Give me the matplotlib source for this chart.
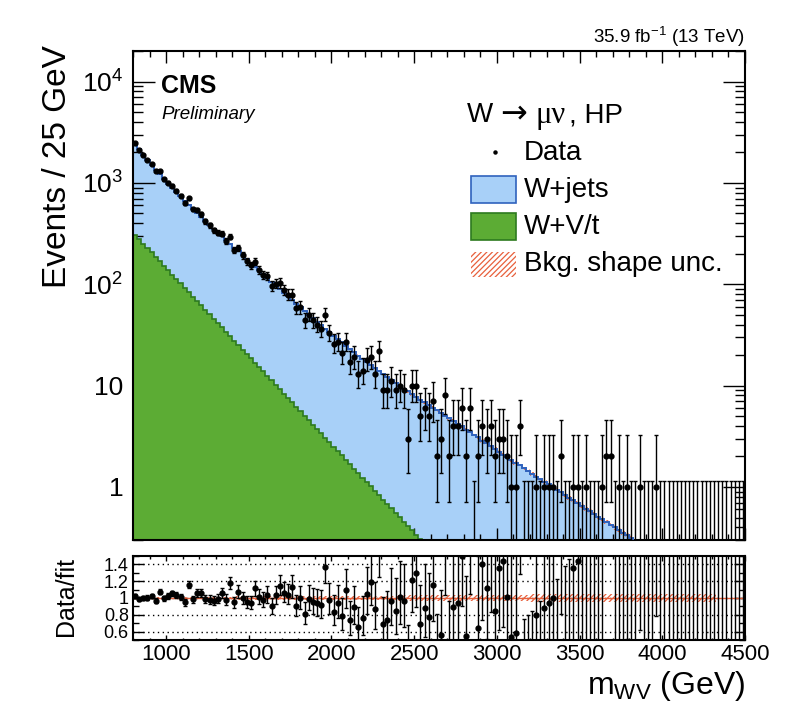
import numpy as np
import matplotlib
matplotlib.use("Agg")
import matplotlib.pyplot as plt
from matplotlib.patches import Rectangle
from matplotlib.lines import Line2D
from matplotlib.ticker import MultipleLocator, FixedLocator, FixedFormatter, LogLocator, NullFormatter

# ---------------- data ----------------
mass_min, mass_max, bin_width = 800, 4500, 25

data_counts = [
    2474, 2107, 1891, 1693, 1536, 1307, 1303, 1086, 1008, 941,
    839, 745, 633, 706, 547, 538, 488, 417, 380, 342,
    322, 316, 268, 295, 218, 227, 193, 168, 154, 166,
    139, 123, 120, 96, 101, 103, 88, 79, 79, 58,
    59, 44, 50, 44, 40, 36, 50, 33, 26, 27,
    21, 27, 17, 19, 13, 14, 18, 19, 13, 22,
    9, 9, 11, 9, 10, 9, 3, 10, 10, 5,
    6, 5, 7, 2, 3, 8, 2, 4, 4, 6,
    2, 6, 0, 2, 4, 3, 4, 2, 3, 3,
    2, 1, 1, 4, 0, 0, 0, 1, 0, 1,
    1, 1, 0, 2, 0, 0, 1, 1, 0, 1,
    0, 0, 0, 1, 2, 2, 0, 1, 0, 1,
    0, 0, 1, 0, 0, 0, 1, 0, 0, 0,
    0, 0, 0, 0, 0, 0, 0, 0, 0, 0,
    0, 0, 0, 0, 0, 0, 0, 0,
]

# total background fit (W+jets + W+V/t), per 25 GeV bin
fit_total = [
    2421, 2143, 1901, 1683, 1503, 1352, 1213, 1091,
    986, 893, 811, 735, 668, 610, 556, 507,
    463, 424, 387, 354, 324, 298, 273, 251,
    230, 211, 193, 177, 163, 149, 137, 126,
    115.8, 106.4, 97.7, 89.8, 82.6, 76.0, 69.9, 64.3,
    59.2, 54.6, 50.3, 46.3, 42.8, 39.5, 36.5, 33.7,
    31.1, 28.8, 26.7, 24.7, 23.0, 21.3, 19.8, 18.4,
    17.1, 16.0, 14.9, 13.9, 12.96, 12.12, 11.34, 10.61,
    9.94, 9.33, 8.76, 8.22, 7.72, 7.27, 6.84, 6.43,
    6.05, 5.70, 5.37, 5.06, 4.77, 4.49, 4.23, 3.99,
    3.68, 3.47, 3.27, 3.09, 2.85, 2.69, 2.52, 2.38,
    2.22, 2.09, 1.97, 1.85, 1.73, 1.63, 1.53, 1.45,
    1.35, 1.26, 1.19, 1.13, 1.06, 0.995, 0.939, 0.883,
    0.830, 0.782, 0.736, 0.693, 0.652, 0.613, 0.577, 0.543,
    0.511, 0.481, 0.452, 0.425, 0.400, 0.377, 0.354, 0.333,
    0.313, 0.295, 0.277, 0.261, 0.246, 0.231, 0.218, 0.205,
    0.193, 0.181, 0.170, 0.160, 0.151, 0.141, 0.133, 0.125,
    0.117, 0.111, 0.103, 0.0977, 0.0916, 0.0860, 0.0808, 0.0760,
    0.0713, 0.0671, 0.0631, 0.0592,
]

# W+V/t component, per 25 GeV bin starting at 800 GeV
fit_wvt = [
    307.6, 278.3, 251.7, 227.7, 206.0, 186.3, 168.5, 152.5, 137.9, 124.8,
    112.9, 102.1, 92.4, 83.6, 75.6, 68.4, 61.9, 56.0, 50.6, 45.8,
    41.4, 37.5, 33.9, 30.7, 27.7, 25.1, 22.7, 20.5, 18.6, 16.8,
    15.2, 13.8, 12.4, 11.3, 10.2, 9.21, 8.33, 7.54, 6.82, 6.17,
    5.58, 5.05, 4.57, 4.13, 3.74, 3.38, 3.06, 2.77, 2.50, 2.26,
    2.05, 1.85, 1.68, 1.52, 1.37, 1.24, 1.12, 1.02, 0.919, 0.831,
    0.752, 0.680, 0.615, 0.557, 0.504, 0.456, 0.412, 0.373, 0.337, 0.305,
    0.276, 0.250, 0.226, 0.204, 0.185, 0.167, 0.151, 0.137, 0.124, 0.112,
    0.101,
]

# relative background shape uncertainty, per 100 GeV block from 800 GeV
shape_unc_block = [
    0.015, 0.015, 0.015, 0.016, 0.016, 0.017, 0.018, 0.019, 0.020, 0.021,
    0.022, 0.023, 0.024, 0.025, 0.027, 0.028, 0.030, 0.031, 0.033, 0.034,
    0.036, 0.037, 0.039, 0.040, 0.042, 0.043, 0.045, 0.046, 0.047, 0.048,
    0.049, 0.050, 0.050, 0.050, 0.050, 0.050, 0.050,
]
shape_unc_max_mass = 4325

y_major_vals = [1, 10, 100, 1000, 10000]
y_major_labels = ["1", "10", "$10^{2}$", "$10^{3}$", "$10^{4}$"]
ratio_tick_vals = [0.6, 0.8, 1.0, 1.2, 1.4]
ratio_tick_labels = ["0.6", "0.8", "1", "1.2", "1.4"]

# ---------------- style ----------------
plt.rcParams["font.family"] = ["Liberation Sans", "DejaVu Sans"]
plt.rcParams["mathtext.default"] = "regular"
plt.rcParams["hatch.linewidth"] = 0.9
RED = "#e8603c"
plt.rcParams["hatch.color"] = RED
LIGHT_BLUE = "#a8d0f8"
BLUE = "#2f62bd"
GREEN = "#5cac34"
DKGREEN = "#2d7a1f"

W, H = 790, 705
fig = plt.figure(figsize=(W / 100, H / 100), dpi=100)


def fx(x):
    return x / W


def fy(y):
    return 1 - y / H


ax = fig.add_axes([fx(133), fy(540), fx(745) - fx(133), fy(51) - fy(540)])
ax2 = fig.add_axes([fx(133), fy(640), fx(745) - fx(133), fy(556) - fy(640)])

edges = np.arange(mass_min, mass_max + bin_width, bin_width)
centers = 0.5 * (edges[:-1] + edges[1:])
n = np.array(data_counts, float)
fit = np.array(fit_total, float)
wvt = np.array(fit_wvt, float)
rel = np.repeat(np.array(shape_unc_block), 4)[: len(fit)]
nb = int(np.sum(edges[1:] <= shape_unc_max_mass))


def poisson_interval(k):
    k = np.asarray(k, float)
    km = np.maximum(k, 1)
    lo = np.where(k > 0, k * (1 - 1 / (9 * km) - 1 / (3 * np.sqrt(km))) ** 3, 0.0)
    hi = (k + 1) * (1 - 1 / (9 * (k + 1)) + 1 / (3 * np.sqrt(k + 1))) ** 3
    hi = np.where(k == 0, 1.148, hi)
    return lo, hi


lo, hi = poisson_interval(n)
pos = n > 0
zero = ~pos

# ---------------- main panel ----------------
ax.set_yscale("log")
ax.set_xlim(mass_min, mass_max)
ax.set_ylim(0.3, 2e4)

ax.stairs(fit, edges, baseline=1e-3, fill=True, facecolor=LIGHT_BLUE, edgecolor="none", zorder=1)
ax.stairs(wvt, edges[: len(wvt) + 1], baseline=1e-3, fill=True, facecolor=GREEN, edgecolor="none", zorder=2)
ax.stairs(wvt, edges[: len(wvt) + 1], baseline=None, color=DKGREEN, lw=1.2, zorder=2.5)
ax.stairs(fit[:nb] * (1 + rel[:nb]), edges[: nb + 1], baseline=fit[:nb] * (1 - rel[:nb]),
          fill=True, facecolor="none", edgecolor=RED, hatch="//////", lw=0, zorder=3)
ax.stairs(fit, edges, baseline=None, color=BLUE, lw=1.4, zorder=3.5)

ekw = dict(ecolor="black", elinewidth=1.0, capsize=1.6, capthick=1.0, zorder=6)
ax.errorbar(centers[pos], n[pos], yerr=[n[pos] - lo[pos], hi[pos] - n[pos]],
            fmt="o", ms=3.5, color="black", **ekw)
ax.errorbar(centers[zero], np.full(zero.sum(), 1e-3),
            yerr=[np.zeros(zero.sum()), hi[zero] - 1e-3], fmt="none", **ekw)

ax.xaxis.set_major_locator(MultipleLocator(500))
ax.xaxis.set_minor_locator(MultipleLocator(100))
ax.yaxis.set_major_locator(FixedLocator(y_major_vals))
ax.yaxis.set_major_formatter(FixedFormatter(y_major_labels))
ax.yaxis.set_minor_locator(LogLocator(base=10, subs=np.arange(2, 10)))
ax.yaxis.set_minor_formatter(NullFormatter())
ax.tick_params(axis="x", which="major", direction="in", length=8.6, width=1,
               top=True, bottom=True, labelbottom=False)
ax.tick_params(axis="x", which="minor", direction="in", length=4.3, width=1, top=True, bottom=True)
ax.tick_params(axis="y", which="major", direction="in", length=16, width=1,
               left=True, right=True, labelsize=19, pad=7)
ax.tick_params(axis="y", which="minor", direction="in", length=7, width=1, left=True, right=True)
for s in ax.spines.values():
    s.set_linewidth(1.5)

# ---------------- ratio panel ----------------
ax2.set_xlim(mass_min, mass_max)
ax2.set_ylim(0.5, 1.5)
for yv in ratio_tick_vals:
    ax2.axhline(yv, color="black", ls=(0, (1, 2.5)), lw=1.0, zorder=1)
ax2.stairs(1 + rel[:nb], edges[: nb + 1], baseline=1 - rel[:nb], fill=True,
           facecolor="none", edgecolor=RED, hatch="//////", lw=0, zorder=2)
ax2.axhline(1.0, color=RED, lw=1.0, zorder=2.5)

r = n / fit
ax2.errorbar(centers[pos], r[pos], yerr=[(n[pos] - lo[pos]) / fit[pos], (hi[pos] - n[pos]) / fit[pos]],
             fmt="o", ms=3.5, color="black", **ekw)
ax2.errorbar(centers[zero], np.zeros(zero.sum()),
             yerr=[np.zeros(zero.sum()), hi[zero] / fit[zero]], fmt="none", **ekw)

ax2.xaxis.set_major_locator(MultipleLocator(500))
ax2.xaxis.set_minor_locator(MultipleLocator(100))
ax2.yaxis.set_major_locator(FixedLocator(ratio_tick_vals))
ax2.yaxis.set_major_formatter(FixedFormatter(ratio_tick_labels))
ax2.yaxis.set_minor_locator(MultipleLocator(0.1))
ax2.tick_params(axis="x", which="major", direction="in", length=3.6, width=1,
                top=True, bottom=True, labelsize=16, pad=3)
ax2.tick_params(axis="x", which="minor", direction="in", length=1.8, width=1, top=True, bottom=True)
ax2.tick_params(axis="y", which="major", direction="in", length=8, width=1,
                left=True, right=True, labelsize=13, pad=3)
ax2.tick_params(axis="y", which="minor", direction="in", length=4, width=1, left=True, right=True)
for s in ax2.spines.values():
    s.set_linewidth(1.5)

# ---------------- texts ----------------
fig.text(fx(161), fy(93.3), "CMS", fontsize=18, fontweight="bold", va="baseline", ha="left")
fig.text(fx(161), fy(119), "Preliminary", fontsize=13.5, style="italic", va="baseline", ha="left")
fig.text(fx(745), fy(43.3), "35.9 fb$^{-1}$ (13 TeV)", fontsize=13.5, va="baseline", ha="right")
fig.text(fx(57), fy(45), "Events / 25 GeV", rotation=90, fontsize=24, ha="center", va="top")
fig.text(fx(66), fy(597), "Data/fit", rotation=90, fontsize=18, ha="center", va="center")
fig.text(fx(745), fy(694), "m$_{WV}$ (GeV)", fontsize=23, ha="right", va="baseline")

# legend (title built from pieces to mimic the ROOT symbol font)
fig.text(fx(467), fy(122.5), "W", fontsize=20, va="baseline", ha="left")
fig.text(fx(500), fy(122.5), "\u2192", fontsize=23, va="baseline", ha="left",
         family=["DejaVu Sans"])
fig.text(fx(536), fy(122.5), "\u03bc\u03bd", fontsize=22, va="baseline", ha="left",
         family=["Liberation Serif", "DejaVu Serif"])
fig.text(fx(569), fy(122.5), ", HP", fontsize=20, va="baseline", ha="left")
fig.add_artist(Line2D([fx(495)], [fy(152)], marker="o", ms=2.2, color="black",
                      transform=fig.transFigure))
fig.text(fx(524), fy(159.5), "Data", fontsize=20, va="baseline", ha="left")
fig.add_artist(Rectangle((fx(471), fy(203)), fx(516) - fx(471), fy(176) - fy(203),
                         transform=fig.transFigure, facecolor=LIGHT_BLUE, edgecolor=BLUE, lw=1.2))
fig.text(fx(524), fy(197), "W+jets", fontsize=20, va="baseline", ha="left")
fig.add_artist(Rectangle((fx(471), fy(240)), fx(516) - fx(471), fy(213) - fy(240),
                         transform=fig.transFigure, facecolor=GREEN, edgecolor=DKGREEN, lw=1.2))
fig.text(fx(524), fy(234), "W+V/t", fontsize=20, va="baseline", ha="left")
fig.add_artist(Rectangle((fx(471), fy(277)), fx(516) - fx(471), fy(252) - fy(277),
                         transform=fig.transFigure, facecolor="none", edgecolor=RED,
                         hatch="//////", lw=0))
fig.text(fx(524), fy(271), "Bkg. shape unc.", fontsize=20, va="baseline", ha="left")

fig.savefig("out.png", dpi=100)
